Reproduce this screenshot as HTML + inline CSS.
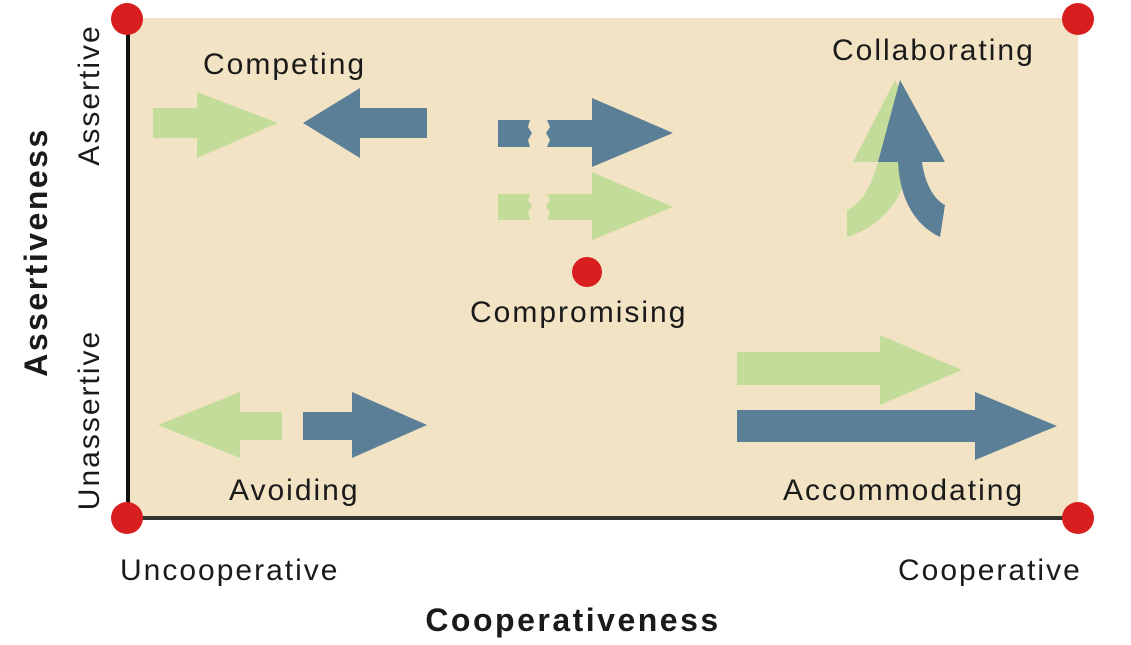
<!DOCTYPE html>
<html><head><style>
body{margin:0;width:1131px;height:640px;background:#fff;overflow:hidden}
text{font-family:"Liberation Sans",sans-serif;fill:#1a1a1a}
</style></head><body>
<svg width="1131" height="640" viewBox="0 0 1131 640">
<rect x="128" y="18" width="950" height="500" fill="#f2e3c4"/>
<line x1="128" y1="18" x2="128" y2="520" stroke="#111" stroke-width="4"/>
<line x1="126" y1="518" x2="1078" y2="518" stroke="#333" stroke-width="4"/>
<g fill="#c3dc9a">
<polygon points="153,108 197,108 197,92 278,123 197,158 197,138 153,138"/>
<polygon points="498,194 530,194 528,200 532,206 528,212 530,220 498,220"/>
<polygon points="547,194 592,194 592,172 673,207 592,240 592,220 547,220 550,212 546,206 550,200"/>
<polygon points="158,425 240,392 240,412 282,412 282,440 240,440 240,458"/>
<polygon points="737,352 880,352 880,335 962,370 880,405 880,385 737,385"/>
<path d="M895,80 L853,162 L878,162 C870,190 860,205 847,210 L847,237 C885,225 905,195 910,162 L930,162 Z"/>
</g>
<g fill="#5a7f96">
<polygon points="303,123 360,88 360,108 427,108 427,138 360,138 360,158"/>
<polygon points="498,120 530,120 528,127 532,133 528,140 530,147 498,147"/>
<polygon points="547,120 592,120 592,98 673,133 592,167 592,147 547,147 550,140 546,133 550,127"/>
<polygon points="303,412 352,412 352,392 427,425 352,458 352,440 303,440"/>
<polygon points="737,410 975,410 975,392 1057,426 975,460 975,442 737,442"/>
<path d="M900,80 L945,162 L922,162 C925,185 935,200 945,205 L940,237 C915,225 900,200 898,162 L878,162 Z"/>
</g>
<g fill="#d81e1e">
<circle cx="127" cy="19" r="16"/><circle cx="1078" cy="19" r="16"/>
<circle cx="127" cy="518" r="16"/><circle cx="1078" cy="518" r="16"/>
<circle cx="587" cy="272" r="15"/>
</g>
<g font-size="30" letter-spacing="2">
<text x="203" y="74">Competing</text>
<text x="832" y="60">Collaborating</text>
<text x="470" y="322">Compromising</text>
<text x="229" y="500">Avoiding</text>
<text x="783" y="500">Accommodating</text>
<text x="120" y="580">Uncooperative</text>
<text x="898" y="580">Cooperative</text>
<text transform="translate(99,95) rotate(-90)" text-anchor="middle">Assertive</text>
<text transform="translate(99,420) rotate(-90)" text-anchor="middle">Unassertive</text>
</g>
<text x="573" y="631" font-size="32" font-weight="bold" letter-spacing="2.5" text-anchor="middle">Cooperativeness</text>
<text transform="translate(47,252) rotate(-90)" font-size="32" font-weight="bold" letter-spacing="2.5" text-anchor="middle">Assertiveness</text>
</svg>
</body></html>
